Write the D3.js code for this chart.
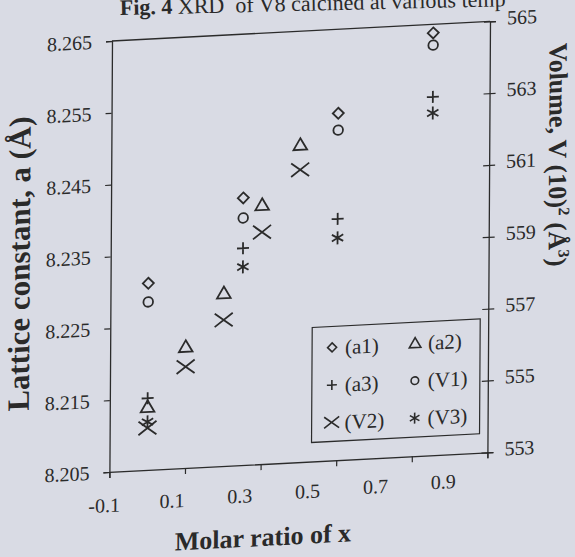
<!DOCTYPE html>
<html>
<head>
<meta charset="utf-8">
<script src="https://cdn.jsdelivr.net/npm/d3@7"></script>
<style>
  body { margin: 0; background: #d9dbe4; }
  text { font-family: "Liberation Serif", "Times New Roman", serif; fill: #2a2a2a; }
</style>
</head>
<body>
<div id="chart"></div>
<script>
const width = 575;
const height = 557;

// plot area (before the scan's skew)
const pw = 378;
const ph = 431;

// data
const xA = [0, 0.25, 0.5, 0.75];           // a1, a3, V1, V3
const xB = [0, 0.1, 0.2, 0.3, 0.4];        // a2, V2
const a1 = [8.2310, 8.2422, 8.2533, 8.2638];
const a3 = [8.2150, 8.2352, 8.2386, 8.2549];
const a2 = [8.2138, 8.2219, 8.2291, 8.2411, 8.2492];
const V1 = [557.68, 559.88, 562.19, 564.42];
const V3 = [554.34, 558.52, 559.19, 562.53];
const V2 = [554.17, 555.82, 557.07, 559.46, 561.14];

const xTicks = [-0.1, 0.1, 0.3, 0.5, 0.7, 0.9];
const leftTicks = [8.205, 8.215, 8.225, 8.235, 8.245, 8.255, 8.265];
const rightTicks = [553, 555, 557, 559, 561, 563, 565];

// marker shapes
const diamond = { draw(c, s) { c.moveTo(0, -s); c.lineTo(s, 0); c.lineTo(0, s); c.lineTo(-s, 0); c.closePath(); } };
const triangle = { draw(c, s) { c.moveTo(0, -s); c.lineTo(s * 1.05, s * 0.8); c.lineTo(-s * 1.05, s * 0.8); c.closePath(); } };
const plus = { draw(c, s) { c.moveTo(-s, 0); c.lineTo(s, 0); c.moveTo(0, -s); c.lineTo(0, s); } };
const ring = { draw(c, s) { c.moveTo(s, 0); c.arc(0, 0, s, 0, 2 * Math.PI); } };
const cross = { draw(c, s) { c.moveTo(-s, -s * 0.75); c.lineTo(s, s * 0.75); c.moveTo(-s, s * 0.75); c.lineTo(s, -s * 0.75); } };
const star = { draw(c, s) {
  c.moveTo(0, -s); c.lineTo(0, s);
  c.moveTo(-s * 0.87, -s * 0.5); c.lineTo(s * 0.87, s * 0.5);
  c.moveTo(-s * 0.87, s * 0.5); c.lineTo(s * 0.87, -s * 0.5);
} };

const series = [
  { name: "(a1)", xs: xA, ys: a1, axis: "a", shape: diamond, size: 5.5, leg: 4.5 },
  { name: "(a2)", xs: xB, ys: a2, axis: "a", shape: triangle, size: 6.5, leg: 5.5 },
  { name: "(a3)", xs: xA, ys: a3, axis: "a", shape: plus, size: 6, leg: 5 },
  { name: "(V1)", xs: xA, ys: V1, axis: "V", shape: ring, size: 4.8, leg: 3.8 },
  { name: "(V2)", xs: xB, ys: V2, axis: "V", shape: cross, size: 9, leg: 7.5 },
  { name: "(V3)", xs: xA, ys: V3, axis: "V", shape: star, size: 6.5, leg: 5.5 }
];

const x = d3.scaleLinear().domain([-0.1, 0.9]).range([0, pw]);
// the printed tick labels sit a little off their ticks
const xLab = d3.scaleLinear().domain([-0.1, 0.9]).range([-5, 334]);
const yA = d3.scaleLinear().domain([8.205, 8.265]).range([ph, 0]);
const yV = d3.scaleLinear().domain([553, 565]).range([ph, 0]);

const svg = d3.select("#chart")
  .append("svg")
  .attr("width", width)
  .attr("height", height);

const ink = "#2b2b2b";

// title, cut off at the top of the page
svg.append("text")
  .attr("transform", "translate(120,15) rotate(-1.3)")
  .style("font-size", "22px")
  .html('<tspan font-weight="bold">Fig. 4</tspan> XRD&#160; of V8 calcined at various temp');

// the scan is sheared a few degrees
const g = svg.append("g")
  .attr("transform", "matrix(1,-0.052,-0.006,1,112,41)");

// frame
g.append("line").attr("x1", 0).attr("x2", pw).attr("y1", 0).attr("y2", 0)
  .attr("stroke", ink).attr("stroke-width", 1.3);

const bottom = g.append("g")
  .attr("transform", `translate(0,${ph})`)
  .call(d3.axisBottom(x).tickValues(xTicks).tickSize(6).tickFormat(""));

const left = g.append("g")
  .call(d3.axisLeft(yA).tickValues(leftTicks).tickSize(6).tickFormat(""));

const right = g.append("g")
  .attr("transform", `translate(${pw},0)`)
  .call(d3.axisRight(yV).tickValues(rightTicks).tickSize(6).tickFormat(""));
right.selectAll(".tick line").attr("x1", -6);

[bottom, left, right].forEach(ax => {
  ax.select(".domain").attr("stroke", ink).attr("stroke-width", 1.3);
  ax.selectAll(".tick line").attr("stroke", ink).attr("stroke-width", 1.2);
});

// tick labels
g.selectAll(".xlab")
  .data(xTicks)
  .join("text")
    .attr("x", d => xLab(d))
    .attr("y", (d, i) => ph + 40 - i * 1.2)
    .attr("text-anchor", "middle")
    .style("font-size", "20px")
    .text(d => d.toFixed(1));

g.selectAll(".ylab")
  .data(leftTicks)
  .join("text")
    .attr("x", -20)
    .attr("y", d => yA(d))
    .attr("dy", "0.35em")
    .attr("text-anchor", "end")
    .style("font-size", "20px")
    .text(d => d.toFixed(3));

g.selectAll(".vlab")
  .data(rightTicks)
  .join("text")
    .attr("x", pw + 17)
    .attr("y", d => yV(d) - 3)
    .attr("dy", "0.35em")
    .style("font-size", "20px")
    .text(d => d);

// axis titles
g.append("text")
  .attr("transform", "translate(-81,218) rotate(-90)")
  .attr("text-anchor", "middle")
  .style("font-size", "31px")
  .style("font-weight", "bold")
  .text("Lattice constant, a (Å)");

g.append("text")
  .attr("transform", `translate(${pw + 60},137) rotate(90)`)
  .attr("text-anchor", "middle")
  .style("font-size", "26px")
  .style("font-weight", "bold")
  .html('Volume, V (10)<tspan dy="-10" font-size="16px">2</tspan><tspan dy="10"> (Å</tspan><tspan dy="-10" font-size="16px">3</tspan><tspan dy="10">)</tspan>');

g.append("text")
  .attr("x", 154)
  .attr("y", 513)
  .attr("text-anchor", "middle")
  .style("font-size", "26px")
  .style("font-weight", "bold")
  .text("Molar ratio of x");

// markers
series.forEach(s => {
  const yy = s.axis === "a" ? yA : yV;
  g.selectAll(null)
    .data(s.xs.map((d, i) => [d, s.ys[i]]))
    .join("path")
      .attr("transform", d => `translate(${x(d[0])},${yy(d[1])})`)
      .attr("d", d3.symbol().type(s.shape).size(s.size))
      .attr("fill", "none")
      .attr("stroke", ink)
      .attr("stroke-width", 1.8);
});

// legend
const leg = g.append("g").attr("transform", "translate(202,297)");
leg.append("rect")
  .attr("width", 168)
  .attr("height", 115)
  .attr("fill", "none")
  .attr("stroke", ink)
  .attr("stroke-width", 1.2);

const item = leg.selectAll(".item")
  .data(series)
  .join("g")
    .attr("transform", (d, i) => `translate(${i % 2 ? 103 : 20},${21 + Math.floor(i / 2) * 37.5})`);

item.append("path")
  .attr("d", d => d3.symbol().type(d.shape).size(d.leg)())
  .attr("fill", "none")
  .attr("stroke", ink)
  .attr("stroke-width", 1.6);

item.append("text")
  .attr("x", 13)
  .attr("dy", "0.35em")
  .style("font-size", "21px")
  .text(d => d.name);
</script>
</body>
</html>
